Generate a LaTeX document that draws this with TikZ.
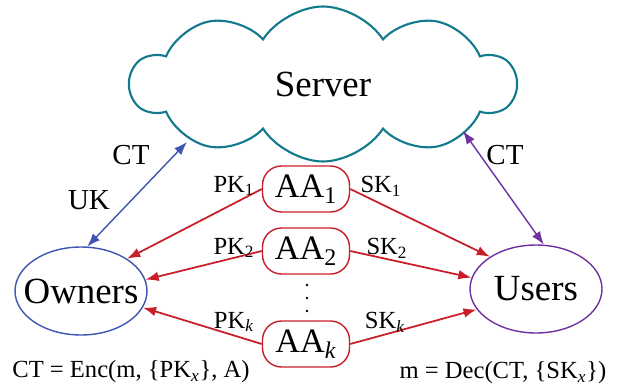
\documentclass[tikz,border=0pt]{standalone}
\usepackage{fontspec}
\setmainfont{Liberation Serif}
\usetikzlibrary{shapes}
\usetikzlibrary{shapes.symbols}
\usetikzlibrary{positioning}
\usetikzlibrary{arrows.meta}
\definecolor{cloudteal}{RGB}{18,122,140}
\definecolor{ownblue}{RGB}{62,84,178}
\definecolor{usrpurple}{RGB}{112,48,160}
\definecolor{keyred}{RGB}{200,30,40}
\tikzset{
    mycloud/.style = {cloud, cloud puffs=10, cloud puff arc=115, aspect=2.5, line width=1.2pt, draw=cloudteal, minimum width=7.7cm, minimum height=3.1cm, font=\fontsize{21}{24}\selectfont},
    mynodeb/.style = {ellipse, line width=0.8pt, draw=ownblue, minimum width=2.64cm, minimum height=1.76cm, inner sep=0pt, font=\fontsize{21}{24}\selectfont},
    mynodep/.style = {ellipse, line width=0.8pt, draw=usrpurple, minimum width=2.64cm, minimum height=1.76cm, inner sep=0pt, font=\fontsize{21}{24}\selectfont},
    mynoder/.style = {rectangle, rounded corners=0.38cm, line width=0.8pt, draw=keyred, minimum width=1.74cm, minimum height=0.92cm, inner sep=0pt, font=\fontsize{19.5}{22}\selectfont},
    edger/.style = {-{Latex[length=7.5pt,width=5.5pt]}, line width=1pt, keyred},
    edgeb/.style = {{Latex[length=7.5pt,width=5.5pt]}-{Latex[length=7.5pt,width=5.5pt]}, line width=0.8pt, ownblue},
    edgep/.style = {{Latex[length=7.5pt,width=5.5pt]}-{Latex[length=7.5pt,width=5.5pt]}, line width=0.8pt, usrpurple},
    lbl/.style = {inner sep=0pt, font=\fontsize{16.5}{18}\selectfont},
    klbl/.style = {inner sep=0pt, font=\fontsize{14}{16}\selectfont},
}

\begin{document}
\begin{tikzpicture}[x=0.02cm, y=-0.02cm]
  \useasboundingbox (0,0) rectangle (618,388);
  \node[mycloud] (server) at (323,84) {Server};
  \node[mynodeb] (owners) at (81,291) {\makebox[0pt]{Owners}};
  \node[mynodep] (users) at (536,289) {\makebox[0pt]{Users}};
  % authorities
  \node[mynoder] (aa1) at (306,189) {AA\textsubscript{1}};
  \node[mynoder] (aa2) at (306,251) {AA\textsubscript{2}};
  \node[mynoder] (aak) at (306,344) {AA\textsubscript{\textit{k}}};
  \foreach \y in {285,298,311}
    \fill (307,\y) circle (1.3);
  % public keys to owners, secret keys to users
  \draw[edger] (aa1.west) -- (owners.35);
  \draw[edger] (aa2.west) -- (owners.10);
  \draw[edger] (aak.west) -- (owners.-15);
  \draw[edger] (aa1.east) -- (users.145);
  \draw[edger] (aa2.east) -- (users.170);
  \draw[edger] (aak.east) -- (users.199);
  \node[klbl] (pk1) at (234,186) {PK\textsubscript{1}};
  \node[klbl] (pk2) at (234,248) {PK\textsubscript{2}};
  \node[klbl] (pkk) at (234,322) {PK\textsubscript{\textit{k}}};
  \node[klbl] (sk1) at (381,186) {SK\textsubscript{1}};
  \node[klbl] (sk2) at (387,248) {SK\textsubscript{2}};
  \node[klbl] (skk) at (385,322) {SK\textsubscript{\textit{k}}};
  % server links
  \coordinate (sl) at (187,142);
  \coordinate (sr) at (463,131);
  \draw[edgeb] (owners.82) -- (sl);
  \draw[edgep] (users.80) -- (sr);
  \node[lbl] (ctl) at (131,155) {CT};
  \node[lbl] (uk) at (89,200) {UK};
  \node[lbl] (ctr) at (505,155) {CT};
  % formulas
  \node[klbl] (enc) at (131,372) {CT = Enc(m, \{PK\textsubscript{\textit{x}}\}, A)};
  \node[klbl] (dec) at (503,373) {m = Dec(CT, \{SK\textsubscript{\textit{x}}\})};
\end{tikzpicture}
\end{document}
